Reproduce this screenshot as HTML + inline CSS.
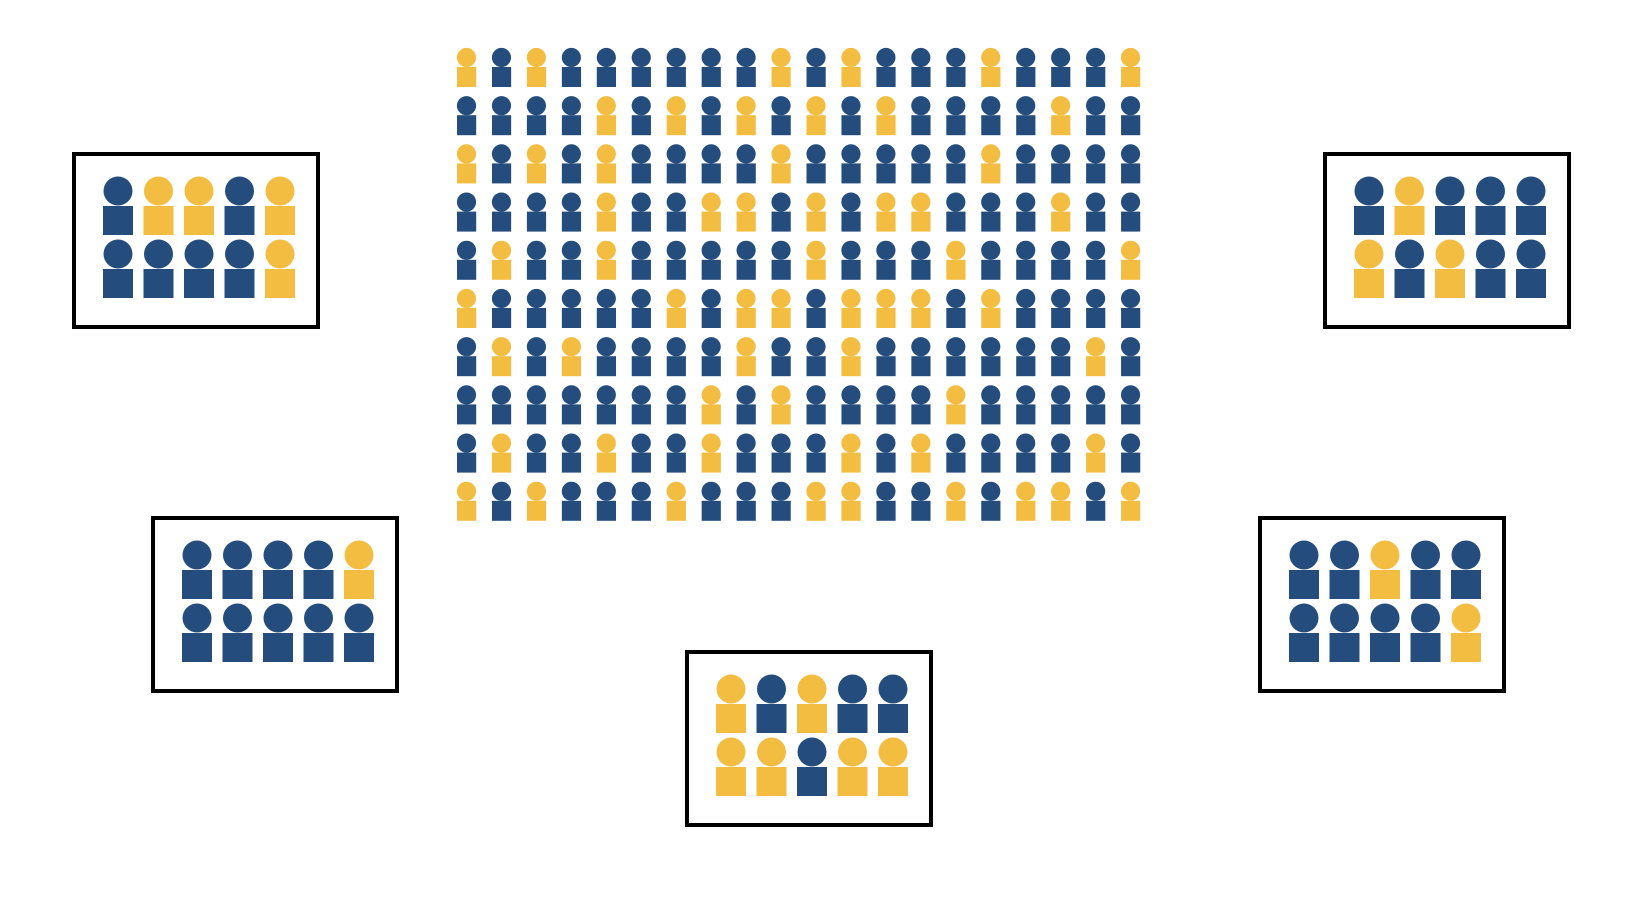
<!DOCTYPE html>
<html><head><meta charset="utf-8"><style>html,body{margin:0;padding:0;background:#fff;width:1640px;height:922px;overflow:hidden}</style></head>
<body>
<svg id="s" width="1640" height="922" xmlns="http://www.w3.org/2000/svg"></svg>
<script>
const B="#244d7e",Y="#f2bd40";
const s=document.getElementById('s');
let h='';
const grid=[
"YBYBBBBBBYBYBBBYBBBY",
"BBBBYBYBYBYBYBBBBYBB",
"YBYBYBBBBYBBBBBYBBBB",
"BBBBYBBYYBYBYYBBBYBB",
"BYBBYBBBBBYBBBYBBBBY",
"YBBBBBYBYYBYYYBYBBBB",
"BYBYBBBBYBBYBBBBBBYB",
"BBBBBBBYBYBBBBYBBBBB",
"BYBBYBBYBBBYBYBBBBYB",
"YBYBBBYBBBYYBBYBYYBY"];
for(let j=0;j<10;j++)for(let i=0;i<20;i++){
 const c=grid[j][i]=='Y'?Y:B;const x=457+34.95*i,y=48.2*j;
 h+=`<ellipse cx="${x+9.5}" cy="${57.5+y}" rx="9.6" ry="9.6" fill="${c}"/><rect x="${x}" y="${67+y}" width="19.2" height="20" fill="${c}"/>`;
}
const boxes=[[72,152,"BYYBY","BBBBY"],[1323,152,"BYBBB","YBYBB"],[151,516,"BBBBY","BBBBB"],[1258,516,"BBYBB","BBBBY"],[685,650,"YBYBB","YYBYY"]];
for(const [bx,by,r1,r2] of boxes){
 h+=`<rect x="${bx+2}" y="${by+2}" width="244" height="173" fill="none" stroke="#000" stroke-width="4"/>`;
 [r1,r2].forEach((r,j)=>{for(let i=0;i<5;i++){const c=r[i]=='Y'?Y:B;const x=bx+31+40.5*i,y=by+63*j;
  h+=`<circle cx="${x+15}" cy="${y+39}" r="14.5" fill="${c}"/><rect x="${x}" y="${y+54}" width="30" height="29" fill="${c}"/>`;}});
}
s.innerHTML=h;
</script>
</body></html>
